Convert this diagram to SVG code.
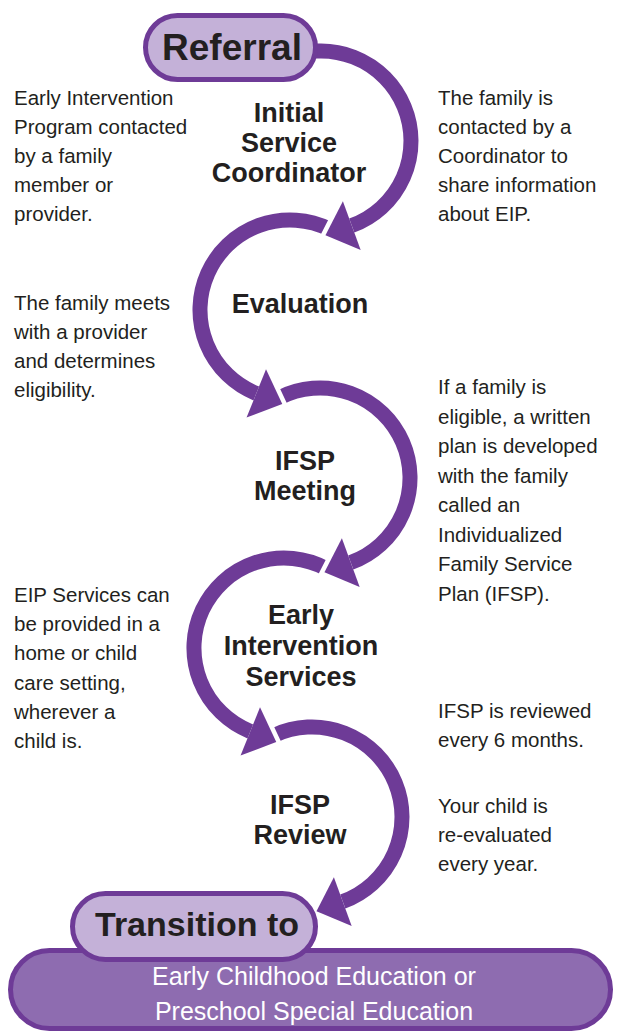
<svg xmlns="http://www.w3.org/2000/svg" width="618" height="1034" viewBox="0 0 618 1034">
<style>
.arc{fill:none;stroke:#6e3b97;stroke-width:15;stroke-linecap:butt;marker-end:url(#ah)}
.pill{fill:#c4b1d8;stroke:#6e3b97;stroke-width:5}
.big{font-family:"Liberation Sans",Arial,sans-serif;font-weight:bold;fill:#231f20;text-anchor:middle}
.lbl{font-family:"Liberation Sans",Arial,sans-serif;font-weight:bold;font-size:27px;fill:#231f20;text-anchor:middle}
.note{font-family:"Liberation Sans",Arial,sans-serif;font-size:20.5px;fill:#231f20}
.dest{font-family:"Liberation Sans",Arial,sans-serif;font-size:25px;fill:#fff;text-anchor:middle}
</style>
<defs>
<marker id="ah" markerUnits="userSpaceOnUse" viewBox="-10 -40 50 80" markerWidth="50" markerHeight="80" refX="0" refY="0" orient="auto">
<path d="M0,-26 L28,0 L0,26" fill="none" stroke="#fff" stroke-width="9"/>
<path d="M0,-26 L28,0 L0,26 Z" fill="#6e3b97"/>
</marker>
</defs>
<rect width="618" height="1034" fill="#fff"/>
<g id="connectors">
<path class="arc" d="M273.96,735.43 A90,90 0 1 1 342.78,901.57"/>
<path class="arc" d="M326.25,568.54 A90,90 0 1 0 250.29,731.45"/>
<path class="arc" d="M279.14,397.81 A90,90 0 1 1 350.78,562.57"/>
<path class="arc" d="M329.45,229.11 A90,90 0 1 0 256.29,393.45"/>
<path class="arc" d="M282.96,59.43 A90,90 0 1 1 351.78,225.57"/>
</g>
<g id="node-referral">
<rect class="pill" x="145.5" y="15.5" width="170" height="64" rx="32"/>
<text class="big" x="232" y="60" font-size="37">Referral</text>
</g>
<g id="node-initial-service-coordinator">
<text class="lbl" x="289" y="122">Initial</text>
<text class="lbl" x="289" y="152">Service</text>
<text class="lbl" x="289" y="182">Coordinator</text>
</g>
<g id="node-evaluation">
<text class="lbl" x="300" y="313">Evaluation</text>
</g>
<g id="node-ifsp-meeting">
<text class="lbl" x="305" y="470">IFSP</text>
<text class="lbl" x="305" y="500">Meeting</text>
</g>
<g id="node-early-intervention-services">
<text class="lbl" x="301" y="624">Early</text>
<text class="lbl" x="301" y="655">Intervention</text>
<text class="lbl" x="301" y="686">Services</text>
</g>
<g id="node-ifsp-review">
<text class="lbl" x="300" y="814">IFSP</text>
<text class="lbl" x="300" y="844">Review</text>
</g>
<g id="node-destination">
<rect x="10.5" y="950.5" width="600" height="78" rx="39" fill="#8e6cb0" stroke="#6e3b97" stroke-width="5"/>
<text class="dest" x="314" y="985">Early Childhood Education or</text>
<text class="dest" x="314" y="1020">Preschool Special Education</text>
</g>
<g id="node-transition">
<rect class="pill" x="72.5" y="893.5" width="243" height="66" rx="33"/>
<text class="big" x="197" y="936" font-size="34">Transition to</text>
</g>
<g id="notes">
<text class="note" x="14" y="105">Early Intervention</text>
<text class="note" x="14" y="134">Program contacted</text>
<text class="note" x="14" y="163">by a family</text>
<text class="note" x="14" y="192">member or</text>
<text class="note" x="14" y="221">provider.</text>
<text class="note" x="438" y="105">The family is</text>
<text class="note" x="438" y="134">contacted by a</text>
<text class="note" x="438" y="163">Coordinator to</text>
<text class="note" x="438" y="192">share information</text>
<text class="note" x="438" y="221">about EIP.</text>
<text class="note" x="14" y="310">The family meets</text>
<text class="note" x="14" y="339">with a provider</text>
<text class="note" x="14" y="368">and determines</text>
<text class="note" x="14" y="397">eligibility.</text>
<text class="note" x="438" y="394">If a family is</text>
<text class="note" x="438" y="423.5">eligible, a written</text>
<text class="note" x="438" y="453">plan is developed</text>
<text class="note" x="438" y="482.5">with the family</text>
<text class="note" x="438" y="512">called an</text>
<text class="note" x="438" y="541.5">Individualized</text>
<text class="note" x="438" y="571">Family Service</text>
<text class="note" x="438" y="600.5">Plan (IFSP).</text>
<text class="note" x="14" y="602">EIP Services can</text>
<text class="note" x="14" y="631">be provided in a</text>
<text class="note" x="14" y="660">home or child</text>
<text class="note" x="14" y="690">care setting,</text>
<text class="note" x="14" y="719">wherever a</text>
<text class="note" x="14" y="748">child is.</text>
<text class="note" x="438" y="718">IFSP is reviewed</text>
<text class="note" x="438" y="747">every 6 months.</text>
<text class="note" x="438" y="813">Your child is</text>
<text class="note" x="438" y="842">re-evaluated</text>
<text class="note" x="438" y="871">every year.</text>
</g>
</svg>
